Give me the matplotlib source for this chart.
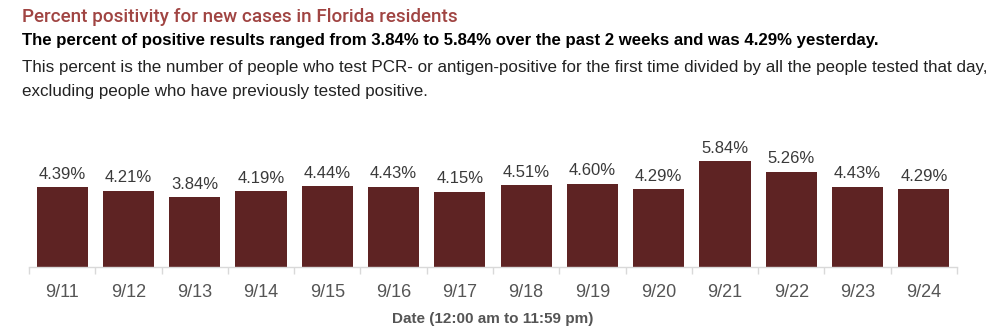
import numpy as np
import matplotlib.pyplot as plt

dates = ['9/11', '9/12', '9/13', '9/14', '9/15', '9/16', '9/17',
         '9/18', '9/19', '9/20', '9/21', '9/22', '9/23', '9/24']
positivity = [4.39, 4.21, 3.84, 4.19, 4.44, 4.43, 4.15,
              4.51, 4.60, 4.29, 5.84, 5.26, 4.43, 4.29]

bar_color = '#5e2323'
title_color = '#a04442'

fig = plt.figure(figsize=(10.06, 3.36), dpi=100)

# header text
fig.text(0.022, 0.935, 'Percent positivity for new cases in Florida residents',
         fontsize=13.6, color=title_color, family='Roboto', fontweight='medium', va='baseline')
fig.text(0.022, 0.865, 'The percent of positive results ranged from 3.84% to 5.84% '
         'over the past 2 weeks and was 4.29% yesterday.',
         fontsize=12.05, fontweight='bold', color='black', family='Liberation Sans', va='baseline')
fig.text(0.022, 0.787, 'This percent is the number of people who test PCR- or antigen-positive '
         'for the first time divided by all the people tested that day,',
         fontsize=12.25, color='#222222', family='Liberation Sans', va='baseline')
fig.text(0.022, 0.715, 'excluding people who have previously tested positive.',
         fontsize=12.25, color='#222222', family='Liberation Sans', va='baseline')

ax = fig.add_axes([0.0288, 0.2054, 0.9225, 0.378])
x = np.arange(len(dates))
bars = ax.bar(x, positivity, width=0.77, color=bar_color)

for xi, v in zip(x, positivity):
    ax.text(xi, v + 0.3, f'{v:.2f}%', ha='center', va='bottom',
            fontsize=12, color='#3a3a3a', family='Liberation Sans')

ax.set_xlim(-0.5, len(dates) - 0.5)
ax.set_ylim(0, 7.0)
ax.set_yticks([])
for s in ['top', 'right', 'left']:
    ax.spines[s].set_visible(False)
ax.spines['bottom'].set_color('#d9d9d9')
ax.spines['bottom'].set_linewidth(1)

# category boundary ticks
ax.set_xticks(np.arange(-0.5, len(dates), 1.0))
ax.set_xticklabels([])
ax.tick_params(axis='x', length=5, color='#d9d9d9', width=1)
ax.set_xticks(x, minor=True)
ax.set_xticklabels(dates, minor=True, fontsize=13, color='#555555', family='Liberation Sans')
ax.tick_params(axis='x', which='minor', length=0, pad=12)

ax.set_xlabel('Date (12:00 am to 11:59 pm)', fontsize=11, color='#555555',
              family='Liberation Sans', fontweight='bold', labelpad=8)

fig.savefig('out.png', dpi=100)
